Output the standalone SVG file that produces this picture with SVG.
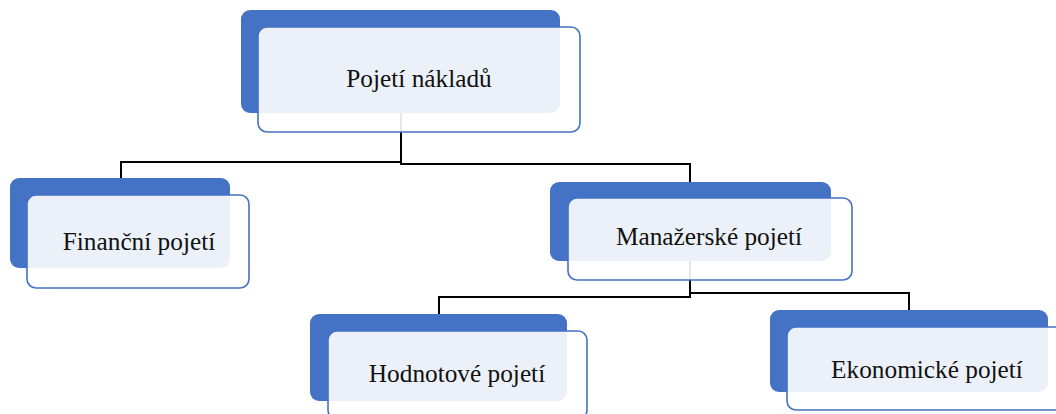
<svg xmlns="http://www.w3.org/2000/svg" width="1056" height="414" viewBox="0 0 1056 414">
<style>
.back{fill:#4472C4}
.front{fill:#ffffff;fill-opacity:0.9;stroke:#4472C4;stroke-width:1.6}
.lbl{font-family:"Liberation Serif","Times New Roman",serif;font-size:25.3px;fill:#111;text-anchor:middle}
.conn{fill:none;stroke:#000;stroke-width:2}
</style>
<rect width="1056" height="414" fill="#fff"/>
<g id="connectors">
<path class="conn" d="M401,113 V162 H121 V178"/>
<path class="conn" d="M401,113 V164 H690 V182"/>
<path class="conn" d="M690,261 V297 H439 V314"/>
<path class="conn" d="M690,261 V293 H909 V310"/>
</g>
<g id="root">
<rect class="back" x="241" y="10" width="319" height="103" rx="9"/>
<rect class="front" x="258" y="27" width="322" height="105" rx="9"/>
<text class="lbl" x="419" y="87">Pojetí nákladů</text>
</g>
<g id="financni">
<rect class="back" x="10" y="178" width="220" height="90" rx="9"/>
<rect class="front" x="27" y="195" width="222" height="93" rx="9"/>
<text class="lbl" x="139" y="250">Finanční pojetí</text>
</g>
<g id="manazerske">
<rect class="back" x="550" y="182" width="281" height="79" rx="9"/>
<rect class="front" x="568" y="198" width="284" height="82" rx="9"/>
<text class="lbl" x="709" y="245">Manažerské pojetí</text>
</g>
<g id="hodnotove">
<rect class="back" x="310" y="314" width="257" height="87" rx="9"/>
<rect class="front" x="328" y="331" width="259" height="88" rx="9"/>
<text class="lbl" x="457" y="382">Hodnotové pojetí</text>
</g>
<g id="ekonomicke">
<rect class="back" x="770" y="310" width="278" height="82" rx="9"/>
<rect class="front" x="787" y="327" width="281" height="83" rx="9"/>
<text class="lbl" x="927" y="378">Ekonomické pojetí</text>
</g>
</svg>
